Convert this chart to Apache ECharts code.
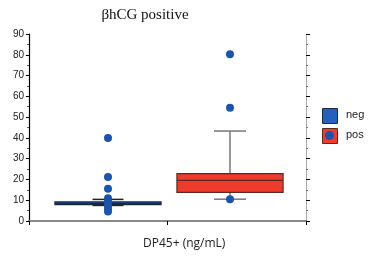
<!DOCTYPE html>
<html><head><meta charset="utf-8">
<script src="https://cdn.jsdelivr.net/npm/echarts@6/dist/echarts.min.js"></script>
<style>html,body{margin:0;padding:0;background:#fff}#c{width:368px;height:256px}</style>
</head><body><div id="c"></div>
<script>
var categories = ['neg', 'pos'];
var yTicks = [0, 10, 20, 30, 40, 50, 60, 70, 80, 90];
var boxLow = [7.5, 10.5];
var boxQ1 = [7.9, 13.8];
var boxMedian = [8.5, 19.6];
var boxQ3 = [9.2, 22.8];
var boxHigh = [10.4, 43.3];
var negOutliers = [40, 21.2, 15.5, 11, 9.5, 7.5, 6, 4.6];
var posOutliers = [80.2, 54.5, 10.5];

var boxFill = ['#2460bd', '#ef3b2c'];
var boxBorder = ['#1b2a40', '#5a2a22'];
var whiskerColor = ['#222', '#777'];
var capWidth = [31, 32];
var dotColor = '#1a55ad';

var boxData = categories.map(function (c, i) {
  return [i, boxLow[i], boxQ1[i], boxMedian[i], boxQ3[i], boxHigh[i]];
});
var outlierData = [];
negOutliers.forEach(function (v) { outlierData.push([0, v]); });
posOutliers.forEach(function (v) { outlierData.push([1, v]); });

function renderBox(params, api) {
  var i = api.value(0);
  var pLow = api.coord([i, api.value(1)]);
  var pQ1 = api.coord([i, api.value(2)]);
  var pMed = api.coord([i, api.value(3)]);
  var pQ3 = api.coord([i, api.value(4)]);
  var pHigh = api.coord([i, api.value(5)]);
  var bw = api.size([1, 0])[0] * 0.87;
  var x = pQ1[0];
  var cw = capWidth[i] / 2;
  var lineStyle = { stroke: whiskerColor[i], lineWidth: 1.5 };
  return {
    type: 'group',
    children: [
      { type: 'line', shape: { x1: x, y1: pQ3[1], x2: x, y2: pHigh[1] }, style: lineStyle },
      { type: 'line', shape: { x1: x, y1: pQ1[1], x2: x, y2: pLow[1] }, style: lineStyle },
      { type: 'line', shape: { x1: x - cw, y1: pHigh[1], x2: x + cw, y2: pHigh[1] }, style: lineStyle },
      { type: 'line', shape: { x1: x - cw, y1: pLow[1], x2: x + cw, y2: pLow[1] }, style: lineStyle },
      { type: 'rect', shape: { x: x - bw / 2, y: pQ3[1], width: bw, height: pQ1[1] - pQ3[1] },
        style: { fill: boxFill[i], stroke: boxBorder[i], lineWidth: 1.2 } },
      { type: 'line', shape: { x1: x - bw / 2, y1: pMed[1], x2: x + bw / 2, y2: pMed[1] },
        style: { stroke: boxBorder[i], lineWidth: 1.2 } }
    ]
  };
}

var chart = echarts.init(document.getElementById('c'), null, { renderer: 'canvas' });
var lbl = { fontFamily: 'Liberation Sans', fontSize: 10, color: '#222' };
chart.setOption({
  animation: false,
  title: {
    text: 'βhCG positive', left: 140, top: 3, textAlign: 'center',
    textStyle: { fontFamily: 'Liberation Serif', fontSize: 15, fontWeight: 'normal', color: '#111' }
  },
  grid: [
    { left: 29, right: 62, top: 34, bottom: 35 },
    { left: 47, right: 77, top: 34, bottom: 35 }
  ],
  xAxis: [
    { gridIndex: 0, type: 'category', data: categories, boundaryGap: true,
      axisLine: { lineStyle: { color: '#000', width: 1.5 } },
      axisTick: { show: true, length: 4, lineStyle: { color: '#000' } },
      axisLabel: { show: false }, splitLine: { show: false } },
    { gridIndex: 0, type: 'category', data: categories, position: 'top', boundaryGap: true,
      axisLine: { lineStyle: { color: '#888', width: 2 } },
      axisTick: { show: true, inside: true, length: 4, lineStyle: { color: '#000' } },
      axisLabel: { show: false }, splitLine: { show: false } },
    { gridIndex: 1, type: 'category', data: categories, show: false }
  ],
  yAxis: [
    { gridIndex: 0, type: 'value', min: 0, max: 90, interval: 10,
      axisLine: { show: true, lineStyle: { color: '#000', width: 1.2 } },
      axisTick: { show: true, length: 3, lineStyle: { color: '#000' } },
      minorTick: { show: true, splitNumber: 2, length: 2, lineStyle: { color: '#555' } },
      axisLabel: Object.assign({ margin: 5 }, lbl),
      splitLine: { show: false } },
    { gridIndex: 0, type: 'value', min: 0, max: 90, interval: 10, position: 'right',
      axisLine: { show: true, lineStyle: { color: '#aaa', width: 1 } },
      axisTick: { show: true, length: 4, lineStyle: { color: '#000' } },
      minorTick: { show: true, splitNumber: 2, length: 2, lineStyle: { color: '#777' } },
      axisLabel: { show: false }, splitLine: { show: false } },
    { gridIndex: 1, type: 'value', min: 0, max: 90, show: false, splitLine: { show: false } }
  ],
  series: [
    { type: 'custom', xAxisIndex: 2, yAxisIndex: 2, data: boxData, renderItem: renderBox, z: 2 },
    { type: 'scatter', xAxisIndex: 2, yAxisIndex: 2, data: outlierData, symbolSize: 8,
      itemStyle: { color: dotColor, opacity: 1 }, z: 5 }
  ],
  graphic: [
    { type: 'rect', left: 322, top: 108, shape: { width: 15, height: 15 },
      style: { fill: '#2460bd', stroke: '#1b2a40', lineWidth: 1 } },
    { type: 'text', left: 346, top: 109, style: { text: 'neg', fill: '#222', font: '11px "Liberation Sans"' } },
    { type: 'rect', left: 322, top: 128, shape: { width: 15, height: 15 },
      style: { fill: '#ef3b2c', stroke: '#5a2a22', lineWidth: 1 } },
    { type: 'circle', left: 325, top: 131, shape: { r: 4.5 }, style: { fill: dotColor } },
    { type: 'text', left: 346, top: 129, style: { text: 'pos', fill: '#222', font: '11px "Liberation Sans"' } },
    { type: 'text', left: 143, top: 238, style: { text: 'DP45+ (ng/mL)', fill: '#222', font: '12px "Open Sans"' } }
  ]
});
</script></body></html>
